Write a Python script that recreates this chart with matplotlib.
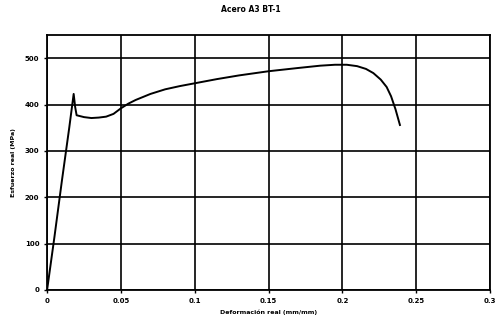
import matplotlib
matplotlib.use("Agg")
import matplotlib.pyplot as plt

title = "Acero A3 BT-1"
xlabel = "Deformación real (mm/mm)"
ylabel = "Esfuerzo real (MPa)"
x_ticks = [0, 0.05, 0.1, 0.15, 0.2, 0.25, 0.3]
x_tick_labels = ["0", "0.05", "0.1", "0.15", "0.2", "0.25", "0.3"]
y_ticks = [0, 100, 200, 300, 400, 500]

strain = [0.0, 0.005, 0.010, 0.015, 0.0180, 0.0190, 0.0200, 0.025, 0.030, 0.035, 0.040,
          0.045, 0.050, 0.055, 0.060, 0.070, 0.080, 0.090, 0.100, 0.115, 0.130,
          0.150, 0.170, 0.185, 0.195, 0.203, 0.210, 0.216, 0.221, 0.226, 0.230,
          0.233, 0.236, 0.239]
stress = [0, 115, 235, 350, 423, 395, 377, 373, 371, 372, 374,
          380, 392, 402, 410, 423, 433, 440, 446, 455, 463,
          472, 479, 484, 486, 486, 483, 477, 468, 454, 438,
          418, 390, 356]

fig = plt.figure(figsize=(5.01, 3.28), dpi=100)
ax = fig.add_axes([0.094, 0.116, 0.884, 0.777])
ax.plot(strain, stress, color="black", lw=1.4)
ax.set_xlim(0, 0.3)
ax.set_ylim(0, 550)
ax.set_xticks(x_ticks)
ax.set_xticklabels(x_tick_labels)
ax.set_yticks(y_ticks)
ax.grid(True, color="black", lw=1.2)
for s in ax.spines.values():
    s.set_linewidth(1.3)
ax.tick_params(labelsize=5, length=2, width=1)
for lab in ax.get_xticklabels() + ax.get_yticklabels():
    lab.set_fontweight("bold")
ax.set_xlabel(xlabel, fontsize=4.5, fontweight="bold", labelpad=4)
ax.set_ylabel(ylabel, fontsize=4.5, fontweight="bold", labelpad=6)
fig.suptitle(title, fontsize=5.5, fontweight="bold", y=0.985)
fig.savefig("out.png", dpi=100)
